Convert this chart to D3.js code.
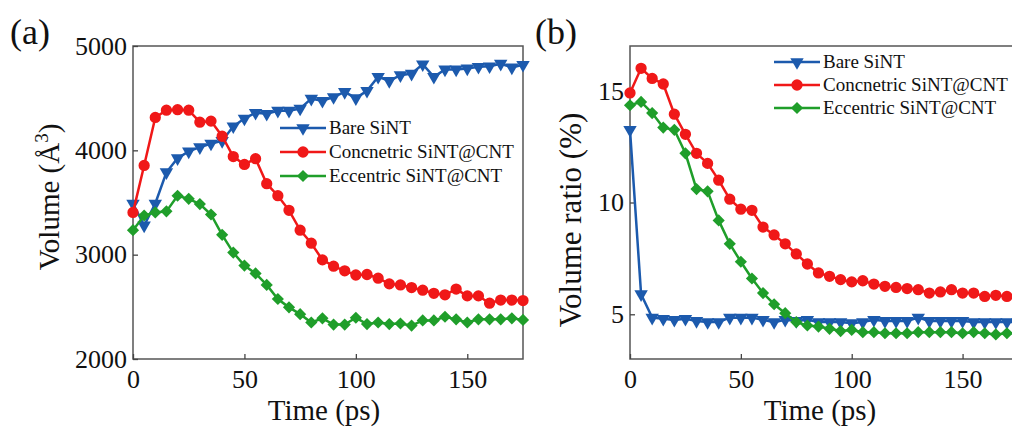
<!DOCTYPE html>
<html lang="en">
	<head>
		<meta charset="utf-8">
		<title>SiNT volume</title>
		<script type="text/javascript" src="https://cdn.jsdelivr.net/npm/d3@7"></script>
		<style>
			body { margin: 0; background: #fff; }
			svg text { font-family: "Liberation Serif", "Times New Roman", Times, serif; }
		</style>
	</head>
	<body>
		<script type="text/javascript">

		// -- Data -- //

		let time = [0, 5, 10, 15, 20, 25, 30, 35, 40, 45, 50, 55, 60, 65, 70, 75, 80, 85,
			90, 95, 100, 105, 110, 115, 120, 125, 130, 135, 140, 145, 150, 155, 160, 165, 170, 175];

		let seriesNames = ["Bare SiNT", "Concnetric SiNT@CNT", "Eccentric SiNT@CNT"];

		// panel (a): volume in A^3
		let volBare = [3490, 3280, 3490, 3790, 3925, 3990, 4030, 4065, 4090, 4230, 4305, 4360,
			4350, 4380, 4380, 4400, 4495, 4475, 4510, 4560, 4500, 4570, 4705, 4665, 4720, 4735,
			4825, 4705, 4775, 4775, 4785, 4800, 4805, 4830, 4795, 4820];
		let volConc = [3405, 3855, 4315, 4385, 4390, 4385, 4270, 4280, 4135, 3940, 3865, 3920,
			3680, 3565, 3425, 3235, 3110, 2950, 2890, 2845, 2805, 2810, 2775, 2720, 2710, 2685,
			2660, 2630, 2615, 2670, 2605, 2605, 2535, 2565, 2565, 2560];
		let volEcc = [3235, 3375, 3405, 3415, 3565, 3535, 3485, 3385, 3190, 3020, 2895, 2820,
			2710, 2575, 2495, 2430, 2350, 2390, 2330, 2330, 2395, 2335, 2350, 2335, 2340, 2320,
			2370, 2370, 2405, 2380, 2350, 2380, 2380, 2380, 2390, 2375];

		// panel (b): volume ratio in %
		let ratioBare = [13.25, 5.9, 4.85, 4.8, 4.75, 4.8, 4.7, 4.65, 4.65, 4.85, 4.85, 4.85,
			4.75, 4.65, 4.75, 4.7, 4.75, 4.65, 4.65, 4.65, 4.6, 4.65, 4.75, 4.7, 4.7, 4.7,
			4.85, 4.7, 4.7, 4.7, 4.7, 4.65, 4.65, 4.65, 4.65, 4.65];
		let ratioConc = [14.9, 16.0, 15.55, 15.3, 13.95, 13.05, 12.2, 11.75, 11.0, 10.15, 9.7, 9.65,
			8.9, 8.55, 8.15, 7.7, 7.25, 6.85, 6.7, 6.55, 6.45, 6.5, 6.35, 6.25, 6.2, 6.15,
			6.1, 5.95, 6.0, 6.1, 5.95, 5.95, 5.8, 5.85, 5.8, 5.8];
		let ratioEcc = [14.35, 14.5, 14.0, 13.35, 13.25, 12.2, 10.6, 10.5, 9.2, 8.15, 7.35, 6.6,
			5.95, 5.45, 5.05, 4.65, 4.5, 4.45, 4.35, 4.25, 4.3, 4.2, 4.2, 4.15, 4.15, 4.15,
			4.2, 4.2, 4.2, 4.2, 4.15, 4.2, 4.15, 4.1, 4.15, 4.15];

		let xTicks = [0, 50, 100, 150];
		let volTicks = [2000, 3000, 4000, 5000];
		let ratioTicks = [5, 10, 15];

		// -- Setting -- //

		let canvasWidth = 1012;
		let canvasHeight = 427;
		let font = "Liberation Serif";
		let colors = ["#1c5aad", "#f01818", "#1f9e2a"];
		let shapes = ["tri", "circle", "diamond"];

		const canvas = d3.select("body")
			.append("svg")
			.attr("width", canvasWidth)
			.attr("height", canvasHeight)
			.style("display", "block");

		let symbolPath = function(shape) {
			if (shape === "circle") return d3.symbol().type(d3.symbolCircle).size(100)();
			if (shape === "diamond") return d3.symbol().type(d3.symbolSquare).size(74)();
			return d3.symbol().type(d3.symbolTriangle).size(78)();
		};
		let symbolRotate = function(shape) {
			if (shape === "diamond") return 45;
			if (shape === "tri") return 180;
			return 0;
		};

		// -- Visualisation -- //

		let drawPanel = function(p) {

			let x = d3.scaleLinear().domain([0, 175]).range([p.left, p.right]);
			let y = d3.scaleLinear().domain(p.yDomain).range([p.bottom, p.top]);

			let g = canvas.append("g");

			// frame
			g.append("rect")
				.attr("x", p.left)
				.attr("y", p.top)
				.attr("width", p.right - p.left)
				.attr("height", p.bottom - p.top)
				.attr("fill", "none")
				.attr("stroke", "#555")
				.attr("stroke-width", 1.5);

			let xAxis = g.append("g")
				.attr("transform", `translate(0,${p.bottom})`)
				.call(d3.axisBottom(x).tickValues(xTicks).tickFormat(d3.format("d"))
					.tickSizeInner(-5).tickSizeOuter(0).tickPadding(11));
			let yAxis = g.append("g")
				.attr("transform", `translate(${p.left},0)`)
				.call(d3.axisLeft(y).tickValues(p.yTicks).tickFormat(d3.format("d"))
					.tickSizeInner(-5).tickSizeOuter(0).tickPadding(6));

			[xAxis, yAxis].forEach(function(ax) {
				ax.attr("font-family", null);
				ax.select(".domain").remove();
				ax.selectAll("line").attr("stroke", "#444").attr("stroke-width", 1.3);
				ax.selectAll("text")
					.style("font-family", font)
					.attr("font-size", 26)
					.attr("fill", "#111");
			});

			// axis titles
			g.append("text")
				.attr("x", (p.left + p.right) / 2 - 4)
				.attr("y", 420)
				.attr("text-anchor", "middle")
				.style("font-family", font)
				.attr("font-size", 29)
				.attr("fill", "#111")
				.text("Time (ps)");

			let yt = g.append("text")
				.attr("transform", `translate(${p.yTitleX},${p.yTitleY}) rotate(-90)`)
				.attr("text-anchor", "middle")
				.style("font-family", font)
				.attr("font-size", p.yTitleSize)
				.attr("fill", "#111");
			p.yTitle(yt);

			// panel letter
			g.append("text")
				.attr("x", p.letterX)
				.attr("y", 44)
				.style("font-family", font)
				.attr("font-size", 36)
				.attr("fill", "#111")
				.text(p.letter);

			// lines + markers
			p.series.forEach(function(vals, i) {
				let pts = time.map(function(t, j) { return [t, vals[j]]; });
				let line = d3.line()
					.x(function(d) { return x(d[0]); })
					.y(function(d) { return y(d[1]); });
				g.append("path")
					.datum(pts)
					.attr("d", line)
					.attr("fill", "none")
					.attr("stroke", colors[i])
					.attr("stroke-width", 2.5);
				g.append("g")
					.selectAll("path")
					.data(pts)
					.join("path")
						.attr("d", symbolPath(shapes[i]))
						.attr("transform", d => `translate(${x(d[0])},${y(d[1])}) rotate(${symbolRotate(shapes[i])})`)
						.attr("fill", colors[i]);
			});

			// legend
			let leg = g.append("g");
			seriesNames.forEach(function(name, i) {
				let ly = p.legY + i * p.legStep;
				leg.append("line")
					.attr("x1", p.legX).attr("x2", p.legX + 46)
					.attr("y1", ly).attr("y2", ly)
					.attr("stroke", colors[i])
					.attr("stroke-width", 2.5);
				leg.append("path")
					.attr("d", symbolPath(shapes[i]))
					.attr("transform", `translate(${p.legX + 23},${ly}) rotate(${symbolRotate(shapes[i])})`)
					.attr("fill", colors[i]);
				leg.append("text")
					.attr("x", p.legX + 49)
					.attr("y", ly + 6)
					.style("font-family", font)
					.attr("font-size", 19)
					.attr("fill", "#111")
					.text(name);
			});
		};

		drawPanel({
			left: 133, right: 523, top: 46, bottom: 359,
			yDomain: [2000, 5000], yTicks: volTicks,
			series: [volBare, volConc, volEcc],
			yTitleX: 59, yTitleY: 197, yTitleSize: 29,
			yTitle: function(t) {
				t.append("tspan").text("Volume (Å");
				t.append("tspan").attr("font-size", 19).attr("dy", -11).text("3");
				t.append("tspan").attr("dy", 11).text(")");
			},
			letter: "(a)", letterX: 10,
			legX: 280, legY: 128, legStep: 24
		});

		drawPanel({
			left: 630, right: 1018, top: 46, bottom: 359,
			yDomain: [3, 17], yTicks: ratioTicks,
			series: [ratioBare, ratioConc, ratioEcc],
			yTitleX: 581, yTitleY: 220, yTitleSize: 31,
			yTitle: function(t) { t.text("Volume ratio (%)"); },
			letter: "(b)", letterX: 535,
			legX: 774, legY: 62, legStep: 23
		});

		</script>
	</body>
</html>
